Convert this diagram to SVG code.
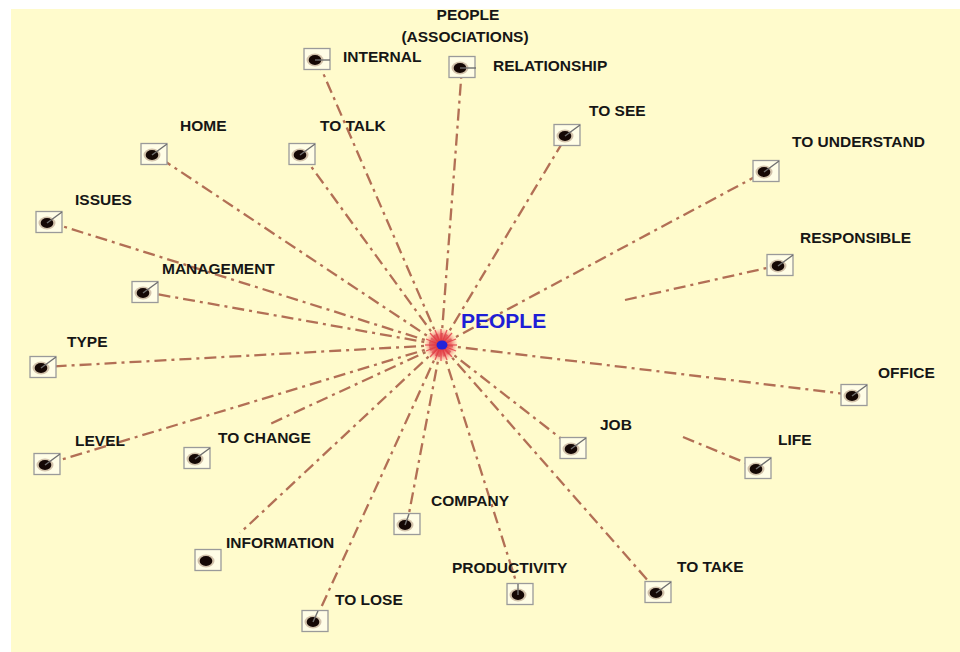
<svg xmlns="http://www.w3.org/2000/svg" width="960" height="652" viewBox="0 0 960 652">
<defs>
<style>
.lbl{font-family:"Liberation Sans",Arial,sans-serif;font-weight:bold;font-size:15.5px;fill:#161616}
.c{fill:none;stroke:#a4563f;stroke-width:2.3;stroke-dasharray:12 5 3 5;stroke-opacity:0.85}
.box{fill:#fffde6;stroke:#9a9a9a;stroke-width:1.3}
.tick{stroke:#6f6f6f;stroke-width:1.4}
.halo{fill:#6a3a25;opacity:0.3}
.dot{fill:#150805}
</style>
<radialGradient id="burst" cx="0.5" cy="0.5" r="0.5">
<stop offset="0" stop-color="#e0303a"/>
<stop offset="0.6" stop-color="#ef5a60" stop-opacity="0.8"/>
<stop offset="1" stop-color="#f58a8a" stop-opacity="0"/>
</radialGradient>
<g id="icon">
<rect class="box" x="-13" y="-10.5" width="26" height="21"/>
<ellipse class="halo" cx="-2" cy="1" rx="8.5" ry="6.5"/>
<ellipse class="dot" cx="-2" cy="1" rx="6.3" ry="5"/>
</g>
</defs>
<rect x="0" y="0" width="960" height="652" fill="#ffffff"/>
<rect x="11" y="9" width="949" height="643" fill="#fffbcc"/>

<g id="connectors">
<line class="c" x1="441" y1="345" x2="317" y2="59"/>
<line class="c" x1="441" y1="345" x2="462" y2="67"/>
<line class="c" x1="441" y1="345" x2="567" y2="135"/>
<line class="c" x1="441" y1="345" x2="766" y2="171"/>
<line class="c" x1="625" y1="300" x2="780" y2="265"/>
<line class="c" x1="441" y1="345" x2="854" y2="395"/>
<line class="c" x1="683" y1="437" x2="758" y2="468"/>
<line class="c" x1="441" y1="345" x2="573" y2="448"/>
<line class="c" x1="441" y1="345" x2="658" y2="592"/>
<line class="c" x1="441" y1="345" x2="520" y2="594"/>
<line class="c" x1="441" y1="345" x2="407" y2="524"/>
<line class="c" x1="441" y1="345" x2="315" y2="621"/>
<line class="c" x1="441" y1="345" x2="240" y2="533"/>
<line class="c" x1="441" y1="345" x2="270" y2="424"/>
<line class="c" x1="441" y1="345" x2="47" y2="464"/>
<line class="c" x1="441" y1="345" x2="43" y2="367"/>
<line class="c" x1="441" y1="345" x2="145" y2="292"/>
<line class="c" x1="441" y1="345" x2="49" y2="222"/>
<line class="c" x1="441" y1="345" x2="154" y2="154"/>
<line class="c" x1="441" y1="345" x2="302" y2="154"/>
</g>

<g id="hub">
<circle cx="441" cy="345" r="17" fill="url(#burst)"/>
<g stroke="#e23a44" stroke-width="1.3" stroke-opacity="0.8">
<line x1="441" y1="345" x2="441" y2="329"/><line x1="441" y1="345" x2="452" y2="333"/>
<line x1="441" y1="345" x2="457" y2="345"/><line x1="441" y1="345" x2="452" y2="357"/>
<line x1="441" y1="345" x2="441" y2="361"/><line x1="441" y1="345" x2="430" y2="357"/>
<line x1="441" y1="345" x2="425" y2="345"/><line x1="441" y1="345" x2="430" y2="333"/>
<line x1="441" y1="345" x2="447" y2="330"/><line x1="441" y1="345" x2="456" y2="339"/>
<line x1="441" y1="345" x2="456" y2="351"/><line x1="441" y1="345" x2="447" y2="360"/>
<line x1="441" y1="345" x2="435" y2="360"/><line x1="441" y1="345" x2="426" y2="351"/>
<line x1="441" y1="345" x2="426" y2="339"/><line x1="441" y1="345" x2="435" y2="330"/>
</g>
<ellipse cx="442" cy="345" rx="5.5" ry="4.5" fill="#2323d8"/>
<text x="461" y="328" font-family="Liberation Sans,Arial,sans-serif" font-weight="bold" font-size="21" fill="#1e1ed6">PEOPLE</text>
</g>

<g id="n-assoc">
<text class="lbl" x="468" y="20" text-anchor="middle">PEOPLE</text>
<text class="lbl" x="465" y="42" text-anchor="middle">(ASSOCIATIONS)</text>
</g>
<g id="n-internal"><use href="#icon" x="317" y="59"/><line class="tick" x1="315" y1="60" x2="330" y2="60"/><text class="lbl" x="343" y="62">INTERNAL</text></g>
<g id="n-relationship"><use href="#icon" x="462" y="67"/><line class="tick" x1="460" y1="68" x2="476" y2="68"/><text class="lbl" x="493" y="71">RELATIONSHIP</text></g>
<g id="n-tosee"><use href="#icon" x="567" y="135"/><line class="tick" x1="565" y1="136" x2="580" y2="125"/><text class="lbl" x="589" y="116">TO SEE</text></g>
<g id="n-understand"><use href="#icon" x="766" y="171"/><line class="tick" x1="764" y1="172" x2="779" y2="161"/><text class="lbl" x="792" y="147">TO UNDERSTAND</text></g>
<g id="n-responsible"><use href="#icon" x="780" y="265"/><line class="tick" x1="778" y1="266" x2="793" y2="255"/><text class="lbl" x="800" y="243">RESPONSIBLE</text></g>
<g id="n-office"><use href="#icon" x="854" y="395"/><line class="tick" x1="852" y1="396" x2="867" y2="385"/><text class="lbl" x="878" y="378">OFFICE</text></g>
<g id="n-life"><use href="#icon" x="758" y="468"/><line class="tick" x1="756" y1="469" x2="771" y2="458"/><text class="lbl" x="778" y="445">LIFE</text></g>
<g id="n-job"><use href="#icon" x="573" y="448"/><line class="tick" x1="571" y1="449" x2="586" y2="438"/><text class="lbl" x="600" y="430">JOB</text></g>
<g id="n-totake"><use href="#icon" x="658" y="592"/><line class="tick" x1="656" y1="593" x2="671" y2="582"/><text class="lbl" x="677" y="572">TO TAKE</text></g>
<g id="n-productivity"><use href="#icon" x="520" y="594"/><line class="tick" x1="518" y1="595" x2="518" y2="584"/><text class="lbl" x="452" y="573">PRODUCTIVITY</text></g>
<g id="n-company"><use href="#icon" x="407" y="524"/><line class="tick" x1="405" y1="525" x2="409" y2="514"/><text class="lbl" x="431" y="506">COMPANY</text></g>
<g id="n-tolose"><use href="#icon" x="315" y="621"/><line class="tick" x1="313" y1="622" x2="318" y2="611"/><text class="lbl" x="335" y="605">TO LOSE</text></g>
<g id="n-information"><use href="#icon" x="208" y="560"/><text class="lbl" x="226" y="548">INFORMATION</text></g>
<g id="n-tochange"><use href="#icon" x="197" y="458"/><line class="tick" x1="195" y1="459" x2="210" y2="448"/><text class="lbl" x="218" y="443">TO CHANGE</text></g>
<g id="n-level"><use href="#icon" x="47" y="464"/><line class="tick" x1="45" y1="465" x2="60" y2="454"/><text class="lbl" x="75" y="446">LEVEL</text></g>
<g id="n-type"><use href="#icon" x="43" y="367"/><line class="tick" x1="41" y1="368" x2="56" y2="357"/><text class="lbl" x="67" y="347">TYPE</text></g>
<g id="n-management"><use href="#icon" x="145" y="292"/><line class="tick" x1="143" y1="293" x2="158" y2="282"/><text class="lbl" x="162" y="274">MANAGEMENT</text></g>
<g id="n-issues"><use href="#icon" x="49" y="222"/><line class="tick" x1="47" y1="223" x2="62" y2="212"/><text class="lbl" x="75" y="205">ISSUES</text></g>
<g id="n-home"><use href="#icon" x="154" y="154"/><line class="tick" x1="152" y1="155" x2="167" y2="144"/><text class="lbl" x="180" y="131">HOME</text></g>
<g id="n-totalk"><use href="#icon" x="302" y="154"/><line class="tick" x1="300" y1="155" x2="315" y2="144"/><text class="lbl" x="320" y="131">TO TALK</text></g>
</svg>
